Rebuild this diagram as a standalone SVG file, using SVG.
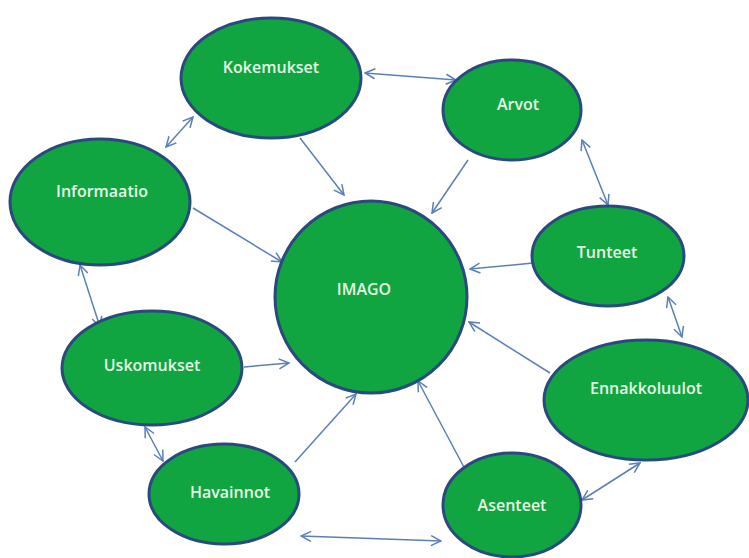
<svg xmlns="http://www.w3.org/2000/svg" width="749" height="558" viewBox="0 0 749 558">
<defs>
<style>
.node ellipse{fill:#10a540;stroke:#2a4a7f;stroke-width:3}
.node text{font-family:"Open Sans","Liberation Sans",sans-serif;font-size:16px;font-weight:600;fill:#e6f7e6;text-anchor:middle;dominant-baseline:central}
.conn line{stroke:#5b7fb8;stroke-width:1.5;fill:none}
</style>
<marker id="ah" viewBox="0 0 12 12" refX="11" refY="6" markerWidth="12" markerHeight="12" markerUnits="userSpaceOnUse" orient="auto-start-reverse">
<path d="M1,1 L11,6 L1,11" fill="none" stroke="#5b7fb8" stroke-width="1.5"/>
</marker>
</defs>
<rect width="749" height="558" fill="#ffffff"/>
<g id="connectors" class="conn">
<line x1="365" y1="73" x2="456" y2="80" marker-start="url(#ah)" marker-end="url(#ah)"/>
<line x1="193" y1="117" x2="166" y2="147" marker-start="url(#ah)" marker-end="url(#ah)"/>
<line x1="300" y1="138" x2="344" y2="195" marker-end="url(#ah)"/>
<line x1="468" y1="160" x2="432" y2="213" marker-end="url(#ah)"/>
<line x1="582" y1="140" x2="608" y2="205" marker-start="url(#ah)" marker-end="url(#ah)"/>
<line x1="193" y1="208" x2="282" y2="262" marker-end="url(#ah)"/>
<line x1="533" y1="263" x2="470" y2="269" marker-end="url(#ah)"/>
<line x1="668" y1="297" x2="682" y2="337" marker-start="url(#ah)" marker-end="url(#ah)"/>
<line x1="550" y1="373" x2="469" y2="322" marker-end="url(#ah)"/>
<line x1="80" y1="265" x2="100" y2="327" marker-start="url(#ah)" marker-end="url(#ah)"/>
<line x1="244" y1="367" x2="289" y2="363" marker-end="url(#ah)"/>
<line x1="145" y1="427" x2="163" y2="461" marker-start="url(#ah)" marker-end="url(#ah)"/>
<line x1="295" y1="462" x2="356" y2="394" marker-end="url(#ah)"/>
<line x1="466" y1="471" x2="418" y2="381" marker-end="url(#ah)"/>
<line x1="301" y1="536" x2="441" y2="541" marker-start="url(#ah)" marker-end="url(#ah)"/>
<line x1="582" y1="500" x2="640" y2="463" marker-start="url(#ah)" marker-end="url(#ah)"/>
</g>
<g id="node-imago" class="node"><ellipse cx="371" cy="297" rx="96" ry="96"/><text x="364" y="289">IMAGO</text></g>
<g id="node-kokemukset" class="node"><ellipse cx="271" cy="78" rx="90" ry="60"/><text x="271" y="67">Kokemukset</text></g>
<g id="node-arvot" class="node"><ellipse cx="512" cy="110" rx="69" ry="50"/><text x="518" y="104">Arvot</text></g>
<g id="node-informaatio" class="node"><ellipse cx="100" cy="202" rx="90" ry="63"/><text x="102" y="191">Informaatio</text></g>
<g id="node-tunteet" class="node"><ellipse cx="608" cy="256" rx="76" ry="50"/><text x="607" y="252">Tunteet</text></g>
<g id="node-uskomukset" class="node"><ellipse cx="152" cy="368" rx="90" ry="57"/><text x="152" y="365">Uskomukset</text></g>
<g id="node-ennakkoluulot" class="node"><ellipse cx="646" cy="400" rx="102" ry="60"/><text x="646" y="388">Ennakkoluulot</text></g>
<g id="node-havainnot" class="node"><ellipse cx="224" cy="494" rx="75" ry="50"/><text x="230" y="492">Havainnot</text></g>
<g id="node-asenteet" class="node"><ellipse cx="512" cy="505" rx="69" ry="52"/><text x="512" y="505">Asenteet</text></g>
</svg>
